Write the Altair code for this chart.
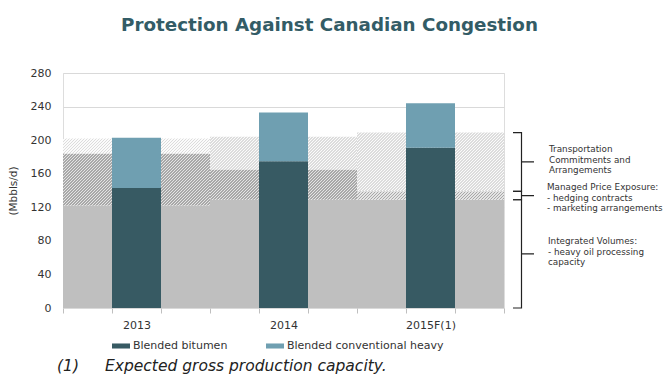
import math
import altair as alt
import pandas as pd

# ---------------- data ----------------
YEARS = ["2013", "2014", "2015F(1)"]
SERIES = ["Blended bitumen", "Blended conventional heavy"]
BITUMEN = [143, 175, 191]
CONV_HEAVY = [60, 58, 53]
INTEGRATED = [122, 129, 129]      # solid grey: integrated volumes
MANAGED = [62, 36, 10]            # dark hatch: managed price exposure
TRANSPORT = [18, 39, 70]          # light hatch: transportation commitments
Y_TICKS = [0, 40, 80, 120, 160, 200, 240, 280]

TITLE = "Protection Against Canadian Congestion"
Y_TITLE = "(Mbbls/d)"
NOTE_1 = ["Transportation", "Commitments and", "Arrangements"]
NOTE_2 = ["Managed Price Exposure:", "- hedging contracts", "- marketing arrangements"]
NOTE_3 = ["Integrated Volumes:", "- heavy oil processing", "capacity"]
FOOT_MARK = "(1)"
FOOT_TEXT = "Expected gross production capacity."

# ---------------- styling ----------------
FONT = "DejaVu Sans"
W, H = 441, 235
YMAX = 280
NSEG = 9
SEGW = W / NSEG
C_BIT = "#375a63"
C_CONV = "#6f9fb1"
C_GREY = "#bfbfbf"
C_TEXT = "#333333"

# ---------------- tables ----------------
bars = []
bg = []
for i, yr in enumerate(YEARS):
    bars.append(dict(year=yr, series=SERIES[0], lo=0, hi=BITUMEN[i], x0=3 * i + 1, x1=3 * i + 2))
    bars.append(dict(year=yr, series=SERIES[1], lo=BITUMEN[i], hi=BITUMEN[i] + CONV_HEAVY[i],
                     x0=3 * i + 1, x1=3 * i + 2))
    g = INTEGRATED[i]
    m = g + MANAGED[i]
    t = m + TRANSPORT[i]
    bg.append(dict(idx=i, x0=3 * i, x1=3 * i + 3, g=g, m=m, t=t))
bars = pd.DataFrame(bars)
bg = pd.DataFrame(bg)

# brace annotation (uses the 2015F stack levels)
lv0 = 0
lv1 = INTEGRATED[-1]
lv2 = lv1 + MANAGED[-1]
lv3 = lv2 + TRANSPORT[-1]
BX0, BX1, BTIP = 450, 458.5, 471
brace_rows = []
for b, (lo, hi) in enumerate([(lv2, lv3), (lv1, lv2), (lv0, lv1)]):
    mid = (lo + hi) / 2
    pts = [(BX0, hi), (BX1, hi), (BX1, mid), (BTIP, mid), (BX1, mid), (BX1, lo), (BX0, lo)]
    for k, (px, py) in enumerate(pts):
        brace_rows.append(dict(b=b, k=k, bx=px, by=py))
braces = pd.DataFrame(brace_rows)


def hatch(w, h, bg_col, fg_col, period=3.0, duty=0.5):
    """Diagonal '/' stripes as a hard-stop linear gradient over a w x h box."""
    c = (w + h) / (w * w + h * h)
    L = w + h
    stops = []
    j = 0
    while j * period < L:
        a = min(1.0, j * period / L)
        b = min(1.0, (j + duty) * period / L)
        e = min(1.0, (j + 1) * period / L)
        stops += [
            {"offset": a, "color": fg_col},
            {"offset": b, "color": fg_col},
            {"offset": b, "color": bg_col},
            {"offset": e, "color": bg_col},
        ]
        j += 1
    return {"gradient": "linear", "x1": 0, "y1": 0, "x2": w * c, "y2": h * c, "stops": stops}


xs = alt.Scale(domain=[0, NSEG], nice=False, zero=False)
ys = alt.Scale(domain=[0, YMAX], nice=False)

label_expr = " : ".join(
    [f"datum.value == {3 * i + 1} ? '{yr}'" for i, yr in enumerate(YEARS)] + ["''"]
)

x_axis = alt.Axis(
    values=list(range(NSEG + 1)), labelExpr=label_expr, labelOffset=SEGW / 2,
    tickSize=5, tickColor="#bfbfbf", domain=False, grid=False, labelOverlap=False,
    labelFontSize=11, labelFont=FONT, labelColor=C_TEXT, labelPadding=6, title=None,
)
y_axis = alt.Axis(
    values=Y_TICKS, ticks=False, domain=False, grid=True, gridColor="#d9d9d9",
    labelFontSize=11, labelFont=FONT, labelColor=C_TEXT, labelPadding=12,
    labelOverlap=False,
    title=Y_TITLE, titleFont=FONT, titleFontSize=10.5, titleFontWeight="normal",
    titleColor=C_TEXT, titlePadding=12,
)


def Y(field):
    return alt.Y(field, scale=ys, axis=y_axis)


base_bg = alt.Chart(bg)

grey = base_bg.mark_rect(fill=C_GREY).encode(
    x=alt.X("x0:Q", scale=xs, axis=x_axis),
    x2="x1:Q",
    y=Y("g:Q"),
    y2=alt.datum(0),
)

hatch_layers = []
for i in range(len(YEARS)):
    hm = MANAGED[i] * H / YMAX
    ht = TRANSPORT[i] * H / YMAX
    w = 3 * SEGW
    hatch_layers.append(
        base_bg.transform_filter(alt.datum.idx == i)
        .mark_rect(fill=hatch(w, hm, "#e4e4e4", "#a8a8a8"))
        .encode(x=alt.X("x0:Q", scale=xs, axis=None), x2="x1:Q", y=Y("g:Q"), y2="m:Q")
    )
    hatch_layers.append(
        base_bg.transform_filter(alt.datum.idx == i)
        .mark_rect(fill=hatch(w, ht, "#fbfbfb", "#dcdcdc"))
        .encode(x=alt.X("x0:Q", scale=xs, axis=None), x2="x1:Q", y=Y("m:Q"), y2="t:Q")
    )

bar_layer = alt.Chart(bars).mark_rect().encode(
    x=alt.X("x0:Q", scale=xs, axis=None),
    x2="x1:Q",
    y=Y("lo:Q"),
    y2="hi:Q",
    color=alt.Color(
        "series:N",
        scale=alt.Scale(domain=SERIES, range=[C_BIT, C_CONV]),
        legend=alt.Legend(
            title=None, orient="none", legendX=49, legendY=264, direction="horizontal",
            symbolType="M-1,-0.28H1V0.28H-1Z", symbolSize=324, symbolStrokeWidth=0,
            labelFont=FONT, labelFontSize=11, labelColor=C_TEXT, labelOffset=3,
            columnPadding=38, padding=0,
        ),
    ),
)

brace_layer = alt.Chart(braces).mark_line(color="#222222", strokeWidth=1.2).encode(
    x=alt.X("bx:Q", scale=None, axis=None),
    y=Y("by:Q"),
    detail="b:N",
    order="k:Q",
)


def note(lines, px, py, size=8.8, lh=10.7):
    return alt.Chart(bg).transform_filter(alt.datum.idx == 0).mark_text(
        align="left", baseline="top", font=FONT, fontSize=size, lineHeight=lh, color=C_TEXT
    ).encode(x=alt.value(px), y=alt.value(py), text=alt.value(lines))


notes = [
    note(NOTE_1, 486, 72),
    note(NOTE_2, 484, 110),
    note(NOTE_3, 485, 164),
]

foot = [
    alt.Chart(bg).transform_filter(alt.datum.idx == 0).mark_text(
        align="left", baseline="alphabetic", font=FONT, fontSize=15.5, fontStyle="italic",
        color="#222222"
    ).encode(x=alt.value(-6), y=alt.value(298), text=alt.value(FOOT_MARK)),
    alt.Chart(bg).transform_filter(alt.datum.idx == 0).mark_text(
        align="left", baseline="alphabetic", font=FONT, fontSize=15.5, fontStyle="italic",
        color="#222222"
    ).encode(x=alt.value(42), y=alt.value(298), text=alt.value(FOOT_TEXT)),
]

chart = alt.layer(grey, *hatch_layers, bar_layer, brace_layer, *notes, *foot).resolve_scale(
    x="independent"
).properties(
    width=W,
    height=H,
    autosize=alt.AutoSizeParams(type="none"),
    padding={"left": 63, "top": 73, "right": 159, "bottom": 67},
    title=alt.TitleParams(
        TITLE, font=FONT, fontSize=18.3, fontWeight="bold", color="#335c66",
        anchor="middle", dx=46, dy=12, offset=30, baseline="alphabetic",
    ),
).configure_view(stroke="#cccccc").configure(font=FONT, background="white")

chart.save("out.html", embed_options={"renderer": "svg", "actions": False})
